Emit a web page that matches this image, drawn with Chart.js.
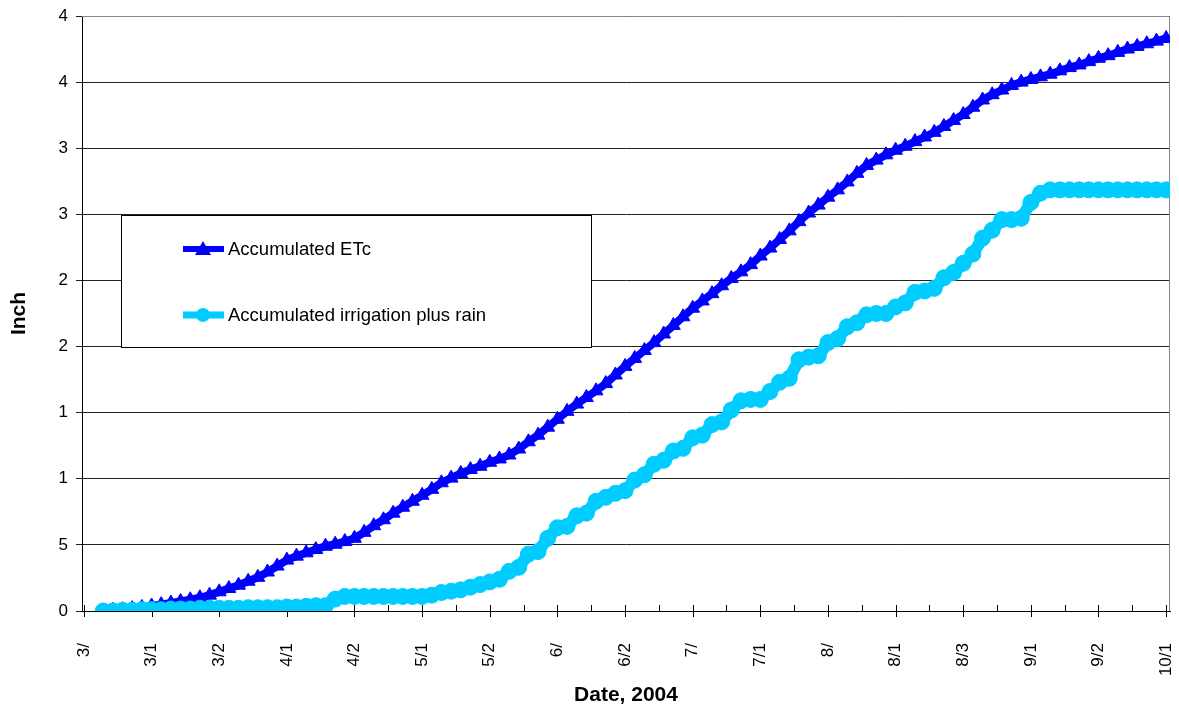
<!DOCTYPE html>
<html>
<head>
<meta charset="utf-8">
<script src="https://cdn.jsdelivr.net/npm/chart.js@4.4.1/dist/chart.umd.min.js"></script>
<style>
  html, body { margin: 0; padding: 0; background: #fff; }
  canvas { display: block; }
</style>
</head>
<body>
<canvas id="chart" width="1179" height="712"></canvas>
<script>
// day index of first reading, step between readings (days)
const firstDay = 4;
const dayStep  = 2;

// tick labels exactly as printed (truncated in the original)
const xTickLabels = ['3/', '3/1', '3/2', '4/1', '4/2', '5/1', '5/2', '6/', '6/2',
                     '7/', '7/1', '8/', '8/1', '8/3', '9/1', '9/2', '10/1'];
const yTickLabels = ['0', '5', '1', '1', '2', '2', '3', '3', '4', '4'];

const seriesNames = ['Accumulated ETc', 'Accumulated irrigation plus rain'];

// accumulated ETc, every 2 days
const etc = [
  0.0, 0.05, 0.1, 0.18, 0.27, 0.38, 0.48, 0.6, 0.72, 0.85,
  1.0, 1.2, 1.45, 1.7, 1.95, 2.25, 2.55, 2.95, 3.4, 3.85,
  4.15, 4.4, 4.65, 4.9, 5.05, 5.25, 5.5, 5.95, 6.45, 6.9,
  7.4, 7.85, 8.3, 8.75, 9.2, 9.7, 10.05, 10.4, 10.7, 10.95,
  11.25, 11.5, 11.8, 12.25, 12.8, 13.3, 13.9, 14.5, 15.1, 15.65,
  16.15, 16.65, 17.2, 17.85, 18.5, 19.1, 19.7, 20.3, 20.95, 21.6,
  22.25, 22.9, 23.45, 24.0, 24.6, 25.15, 25.65, 26.2, 26.85, 27.45,
  28.1, 28.75, 29.45, 30.1, 30.7, 31.3, 31.85, 32.45, 33.1, 33.7,
  34.1, 34.5, 34.85, 35.15, 35.5, 35.85, 36.2, 36.65, 37.1, 37.55,
  38.1, 38.65, 39.05, 39.4, 39.75, 40.0, 40.2, 40.4, 40.6, 40.85,
  41.1, 41.3, 41.55, 41.8, 42.0, 42.25, 42.5, 42.7, 42.9, 43.1,
  43.3
];

// accumulated irrigation plus rain, every 2 days
const irrig = [
  0.0, 0.0, 0.05, 0.05, 0.1, 0.1, 0.1, 0.15, 0.15, 0.15,
  0.2, 0.2, 0.2, 0.2, 0.2, 0.25, 0.25, 0.25, 0.25, 0.3,
  0.3, 0.35, 0.4, 0.4, 0.9, 1.1, 1.1, 1.1, 1.1, 1.1,
  1.1, 1.1, 1.1, 1.1, 1.2, 1.4, 1.5, 1.6, 1.8, 2.0,
  2.2, 2.4, 3.0, 3.3, 4.3, 4.5, 5.5, 6.3, 6.4, 7.2,
  7.4, 8.3, 8.6, 8.9, 9.1, 9.9, 10.3, 11.1, 11.4, 12.1,
  12.3, 13.1, 13.3, 14.1, 14.3, 15.2, 15.9, 16.0, 16.0, 16.6,
  17.3, 17.6, 19.0, 19.2, 19.3, 20.3, 20.6, 21.5, 21.8, 22.4,
  22.5, 22.5, 23.0, 23.3, 24.1, 24.2, 24.4, 25.2, 25.6, 26.3,
  27.0, 28.2, 28.8, 29.6, 29.6, 29.7, 30.9, 31.6, 31.85, 31.85,
  31.85, 31.85, 31.85, 31.85, 31.85, 31.85, 31.85, 31.85, 31.85, 31.85,
  31.85
];

const FONT = "'Liberation Sans', Arial, sans-serif";
const BLUE = '#0000FF';
const CYAN = '#00CCFF';

const toPoints = arr => arr.map((v, i) => ({ x: firstDay + i * dayStep, y: v }));

// tick marks on the date axis: crossing majors, inside minors
const axisTicks = {
  id: 'axisTicks',
  beforeDatasetsDraw(chart) {
    const { ctx, chartArea: a, scales: { x } } = chart;
    ctx.save();
    ctx.strokeStyle = '#000';
    ctx.lineWidth = 1;
    for (let d = 0; d <= 224; d += 7) {
      const px = Math.round(x.getPixelForValue(d)) + 0.5;
      const major = d % 14 === 0;
      ctx.beginPath();
      ctx.moveTo(px, a.bottom - 6);
      ctx.lineTo(px, major ? a.bottom + 6 : a.bottom);
      ctx.stroke();
    }
    // grey frame on top and right
    ctx.strokeStyle = '#888';
    ctx.beginPath();
    ctx.moveTo(a.left, a.top + 0.5);
    ctx.lineTo(a.right - 0.5, a.top + 0.5);
    ctx.lineTo(a.right - 0.5, a.bottom);
    ctx.stroke();
    ctx.restore();
  }
};

// boxed legend inside the plot
const boxLegend = {
  id: 'boxLegend',
  afterDraw(chart) {
    const { ctx } = chart;
    const box = { x: 121.5, y: 215.5, w: 470, h: 132 };
    ctx.save();
    ctx.fillStyle = '#fff';
    ctx.fillRect(box.x, box.y, box.w, box.h);
    ctx.strokeStyle = '#000';
    ctx.lineWidth = 1;
    ctx.strokeRect(box.x, box.y, box.w, box.h);

    const rows = [
      { y: 249, color: BLUE, shape: 'triangle', lw: 6 },
      { y: 315, color: CYAN, shape: 'circle',   lw: 7 },
    ];
    rows.forEach((r, i) => {
      ctx.strokeStyle = r.color;
      ctx.lineWidth = r.lw;
      ctx.beginPath();
      ctx.moveTo(183, r.y);
      ctx.lineTo(224, r.y);
      ctx.stroke();
      ctx.fillStyle = r.color;
      ctx.beginPath();
      if (r.shape === 'triangle') {
        ctx.moveTo(203, r.y - 8);
        ctx.lineTo(211, r.y + 6);
        ctx.lineTo(195, r.y + 6);
        ctx.closePath();
      } else {
        ctx.arc(203, r.y, 7, 0, Math.PI * 2);
      }
      ctx.fill();
      ctx.fillStyle = '#000';
      ctx.font = '18.5px ' + FONT;
      ctx.textBaseline = 'middle';
      ctx.textAlign = 'left';
      ctx.fillText(seriesNames[i], 228, r.y + 1);
    });
    ctx.restore();
  }
};

new Chart(document.getElementById('chart'), {
  type: 'line',
  data: {
    datasets: [
      {
        label: seriesNames[0],
        data: toPoints(etc),
        borderColor: BLUE,
        backgroundColor: BLUE,
        borderWidth: 8,
        pointStyle: 'triangle',
        pointRadius: 8,
        pointBorderWidth: 1,
        tension: 0,
        order: 2,
      },
      {
        label: seriesNames[1],
        data: toPoints(irrig),
        borderColor: CYAN,
        backgroundColor: CYAN,
        borderWidth: 12,
        pointStyle: 'circle',
        pointRadius: 8,
        pointBorderWidth: 1,
        tension: 0,
        order: 1,
      },
    ],
  },
  options: {
    responsive: false,
    animation: false,
    layout: { padding: { top: 16, right: 6, left: 0, bottom: 0 } },
    plugins: { legend: { display: false }, tooltip: { enabled: false } },
    scales: {
      x: {
        type: 'linear',
        min: -0.4,
        max: 224.8,
        afterFit: s => { s.height = 101; s.paddingLeft = 0; s.paddingRight = 0; },
        afterBuildTicks: s => { s.ticks = xTickLabels.map((_, i) => ({ value: i * 14 })); },
        grid: { display: false, drawTicks: false },
        border: { display: true, color: '#000', width: 1 },
        ticks: {
          autoSkip: false,
          minRotation: 90,
          maxRotation: 90,
          padding: 32,
          color: '#000',
          font: { family: FONT, size: 17 },
          callback: (v, i) => xTickLabels[i],
        },
        title: {
          display: true,
          text: 'Date, 2004',
          color: '#000',
          font: { family: FONT, size: 21, weight: 'bold' },
          padding: { top: 0, bottom: 4 },
        },
      },
      y: {
        min: 0,
        max: 45,
        afterFit: s => { s.width = 82; s.paddingTop = 0; s.paddingBottom = 0; },
        grid: { color: '#222', lineWidth: 1, tickLength: 6 },
        border: { display: true, color: '#000', width: 1 },
        ticks: {
          stepSize: 5,
          padding: 8,
          color: '#000',
          font: { family: FONT, size: 17 },
          callback: (v, i) => yTickLabels[i],
        },
        title: {
          display: true,
          text: 'Inch',
          color: '#000',
          font: { family: FONT, size: 21, weight: 'bold' },
          padding: { top: 7, bottom: 0 },
        },
      },
    },
  },
  plugins: [axisTicks, boxLegend],
});
</script>
</body>
</html>
